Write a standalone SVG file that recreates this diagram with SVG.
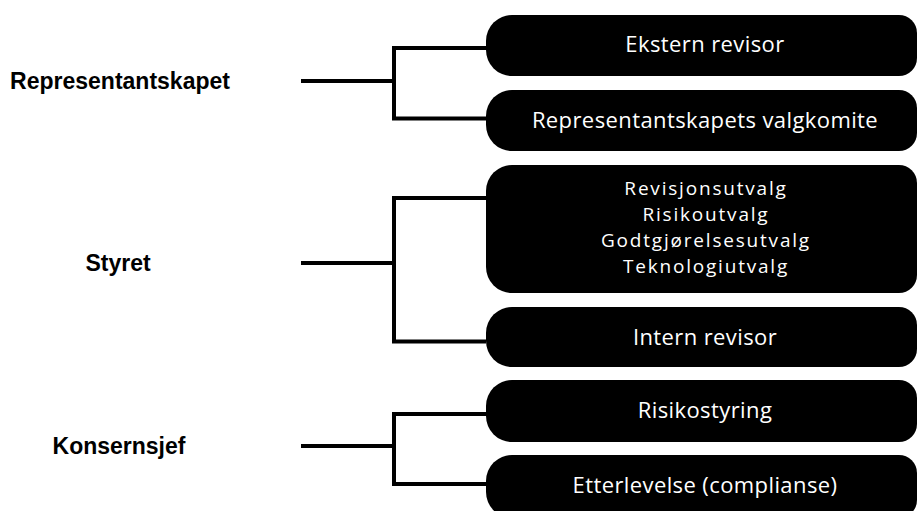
<svg xmlns="http://www.w3.org/2000/svg" width="919" height="511" viewBox="0 0 919 511">
<style>
.box{fill:#000;}
.bt{font-family:"Open Sans","DejaVu Sans",sans-serif;font-size:22px;fill:#fff;text-anchor:middle;letter-spacing:0.4px;}
.bs{font-family:"Open Sans","DejaVu Sans",sans-serif;font-size:19px;fill:#fff;text-anchor:middle;letter-spacing:1.8px;}
.lt{font-family:"Liberation Sans",Arial,sans-serif;font-weight:bold;font-size:23px;fill:#000;text-anchor:middle;}
.con{fill:none;stroke:#000;stroke-width:4;stroke-linejoin:miter;}
</style>
<rect width="919" height="511" fill="#fff"/>
<g id="connectors">
<path class="con" d="M301,81 H394 M486,48 H394 V118.5 H486"/>
<path class="con" d="M301,263 H394 M486,198 H394 V341.5 H486"/>
<path class="con" d="M301,446 H394 M486,414 H394 V484 H486"/>
</g>
<g id="representantskapet"><text class="lt" x="120" y="89">Representantskapet</text></g>
<g id="styret"><text class="lt" x="118" y="271">Styret</text></g>
<g id="konsernsjef"><text class="lt" x="119" y="454">Konsernsjef</text></g>
<g id="ekstern-revisor">
<path class="box" d="M512,15 H899 A18 18 0 0 1 917,33 V58 A18 18 0 0 1 899,76 H512 A26 26 0 0 1 486,50 V41 A26 26 0 0 1 512,15 Z"/>
<text class="bt" x="705" y="52">Ekstern revisor</text>
</g>
<g id="valgkomite">
<path class="box" d="M512,90 H899 A18 18 0 0 1 917,108 V133 A18 18 0 0 1 899,151 H512 A26 26 0 0 1 486,125 V116 A26 26 0 0 1 512,90 Z"/>
<text class="bt" x="705" y="128">Representantskapets valgkomite</text>
</g>
<g id="utvalg">
<path class="box" d="M512,165 H899 A18 18 0 0 1 917,183 V275 A18 18 0 0 1 899,293 H512 A26 26 0 0 1 486,267 V191 A26 26 0 0 1 512,165 Z"/>
<text class="bs" x="706" y="195">Revisjonsutvalg</text>
<text class="bs" x="706" y="221">Risikoutvalg</text>
<text class="bs" x="706" y="247">Godtgjørelsesutvalg</text>
<text class="bs" x="706" y="273">Teknologiutvalg</text>
</g>
<g id="intern-revisor">
<path class="box" d="M512,307 H899 A18 18 0 0 1 917,325 V349 A18 18 0 0 1 899,367 H512 A26 26 0 0 1 486,341 V333 A26 26 0 0 1 512,307 Z"/>
<text class="bt" x="705" y="345">Intern revisor</text>
</g>
<g id="risikostyring">
<path class="box" d="M512,380 H899 A18 18 0 0 1 917,398 V424 A18 18 0 0 1 899,442 H512 A26 26 0 0 1 486,416 V406 A26 26 0 0 1 512,380 Z"/>
<text class="bt" x="705" y="418">Risikostyring</text>
</g>
<g id="etterlevelse">
<path class="box" d="M512,455 H899 A18 18 0 0 1 917,473 V500 A18 18 0 0 1 899,518 H512 A26 26 0 0 1 486,492 V481 A26 26 0 0 1 512,455 Z"/>
<text class="bt" x="705" y="493">Etterlevelse (complianse)</text>
</g>
</svg>
